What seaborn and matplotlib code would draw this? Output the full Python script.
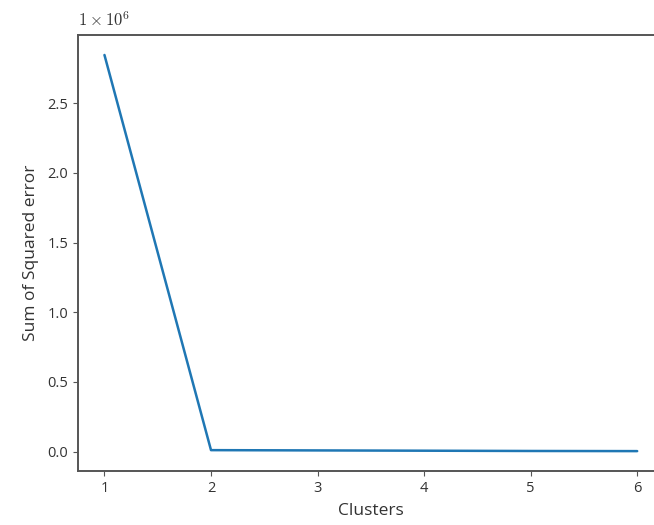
import matplotlib
matplotlib.use("Agg")
import matplotlib.pyplot as plt
import seaborn as sns
import pandas as pd
from matplotlib.ticker import FuncFormatter

# elbow curve values
clusters = [1, 2, 3, 4, 5, 6]
sse = [2.845e6, 0.011e6, 0.009e6, 0.007e6, 0.005e6, 0.004e6]

sns.set_style("ticks")
plt.rcParams['font.family'] = ['Open Sans', 'DejaVu Sans']
plt.rcParams['mathtext.fontset'] = 'cm'

df = pd.DataFrame({'Clusters': clusters, 'Sum of Squared error': sse})

fig = plt.figure(figsize=(6.54, 5.25), dpi=100)
ax = fig.add_axes([0.119, 0.103, 0.896, 0.830])
sns.lineplot(data=df, x='Clusters', y='Sum of Squared error', color='#1f77b4', linewidth=1.8, ax=ax)

ax.yaxis.set_major_formatter(FuncFormatter(lambda v, p: '%.1f' % (v / 1e6)))
ax.text(0.0, 1.02, r'$1\times10^{6}$', transform=ax.transAxes, fontsize=12, color='#333333')

ax.set_xlabel('Clusters', fontsize=12.5, color='#333333', labelpad=5)
ax.set_ylabel('Sum of Squared error', fontsize=12.5, color='#333333', labelpad=6)

# right edge of the axes is cut off in the reference
ax.spines['right'].set_visible(False)
for s in ax.spines.values():
    s.set_color('#555555')
    s.set_linewidth(1.4)
ax.tick_params(colors='#555555', labelcolor='#333333', labelsize=10.5)

fig.savefig('out.png', dpi=100)
